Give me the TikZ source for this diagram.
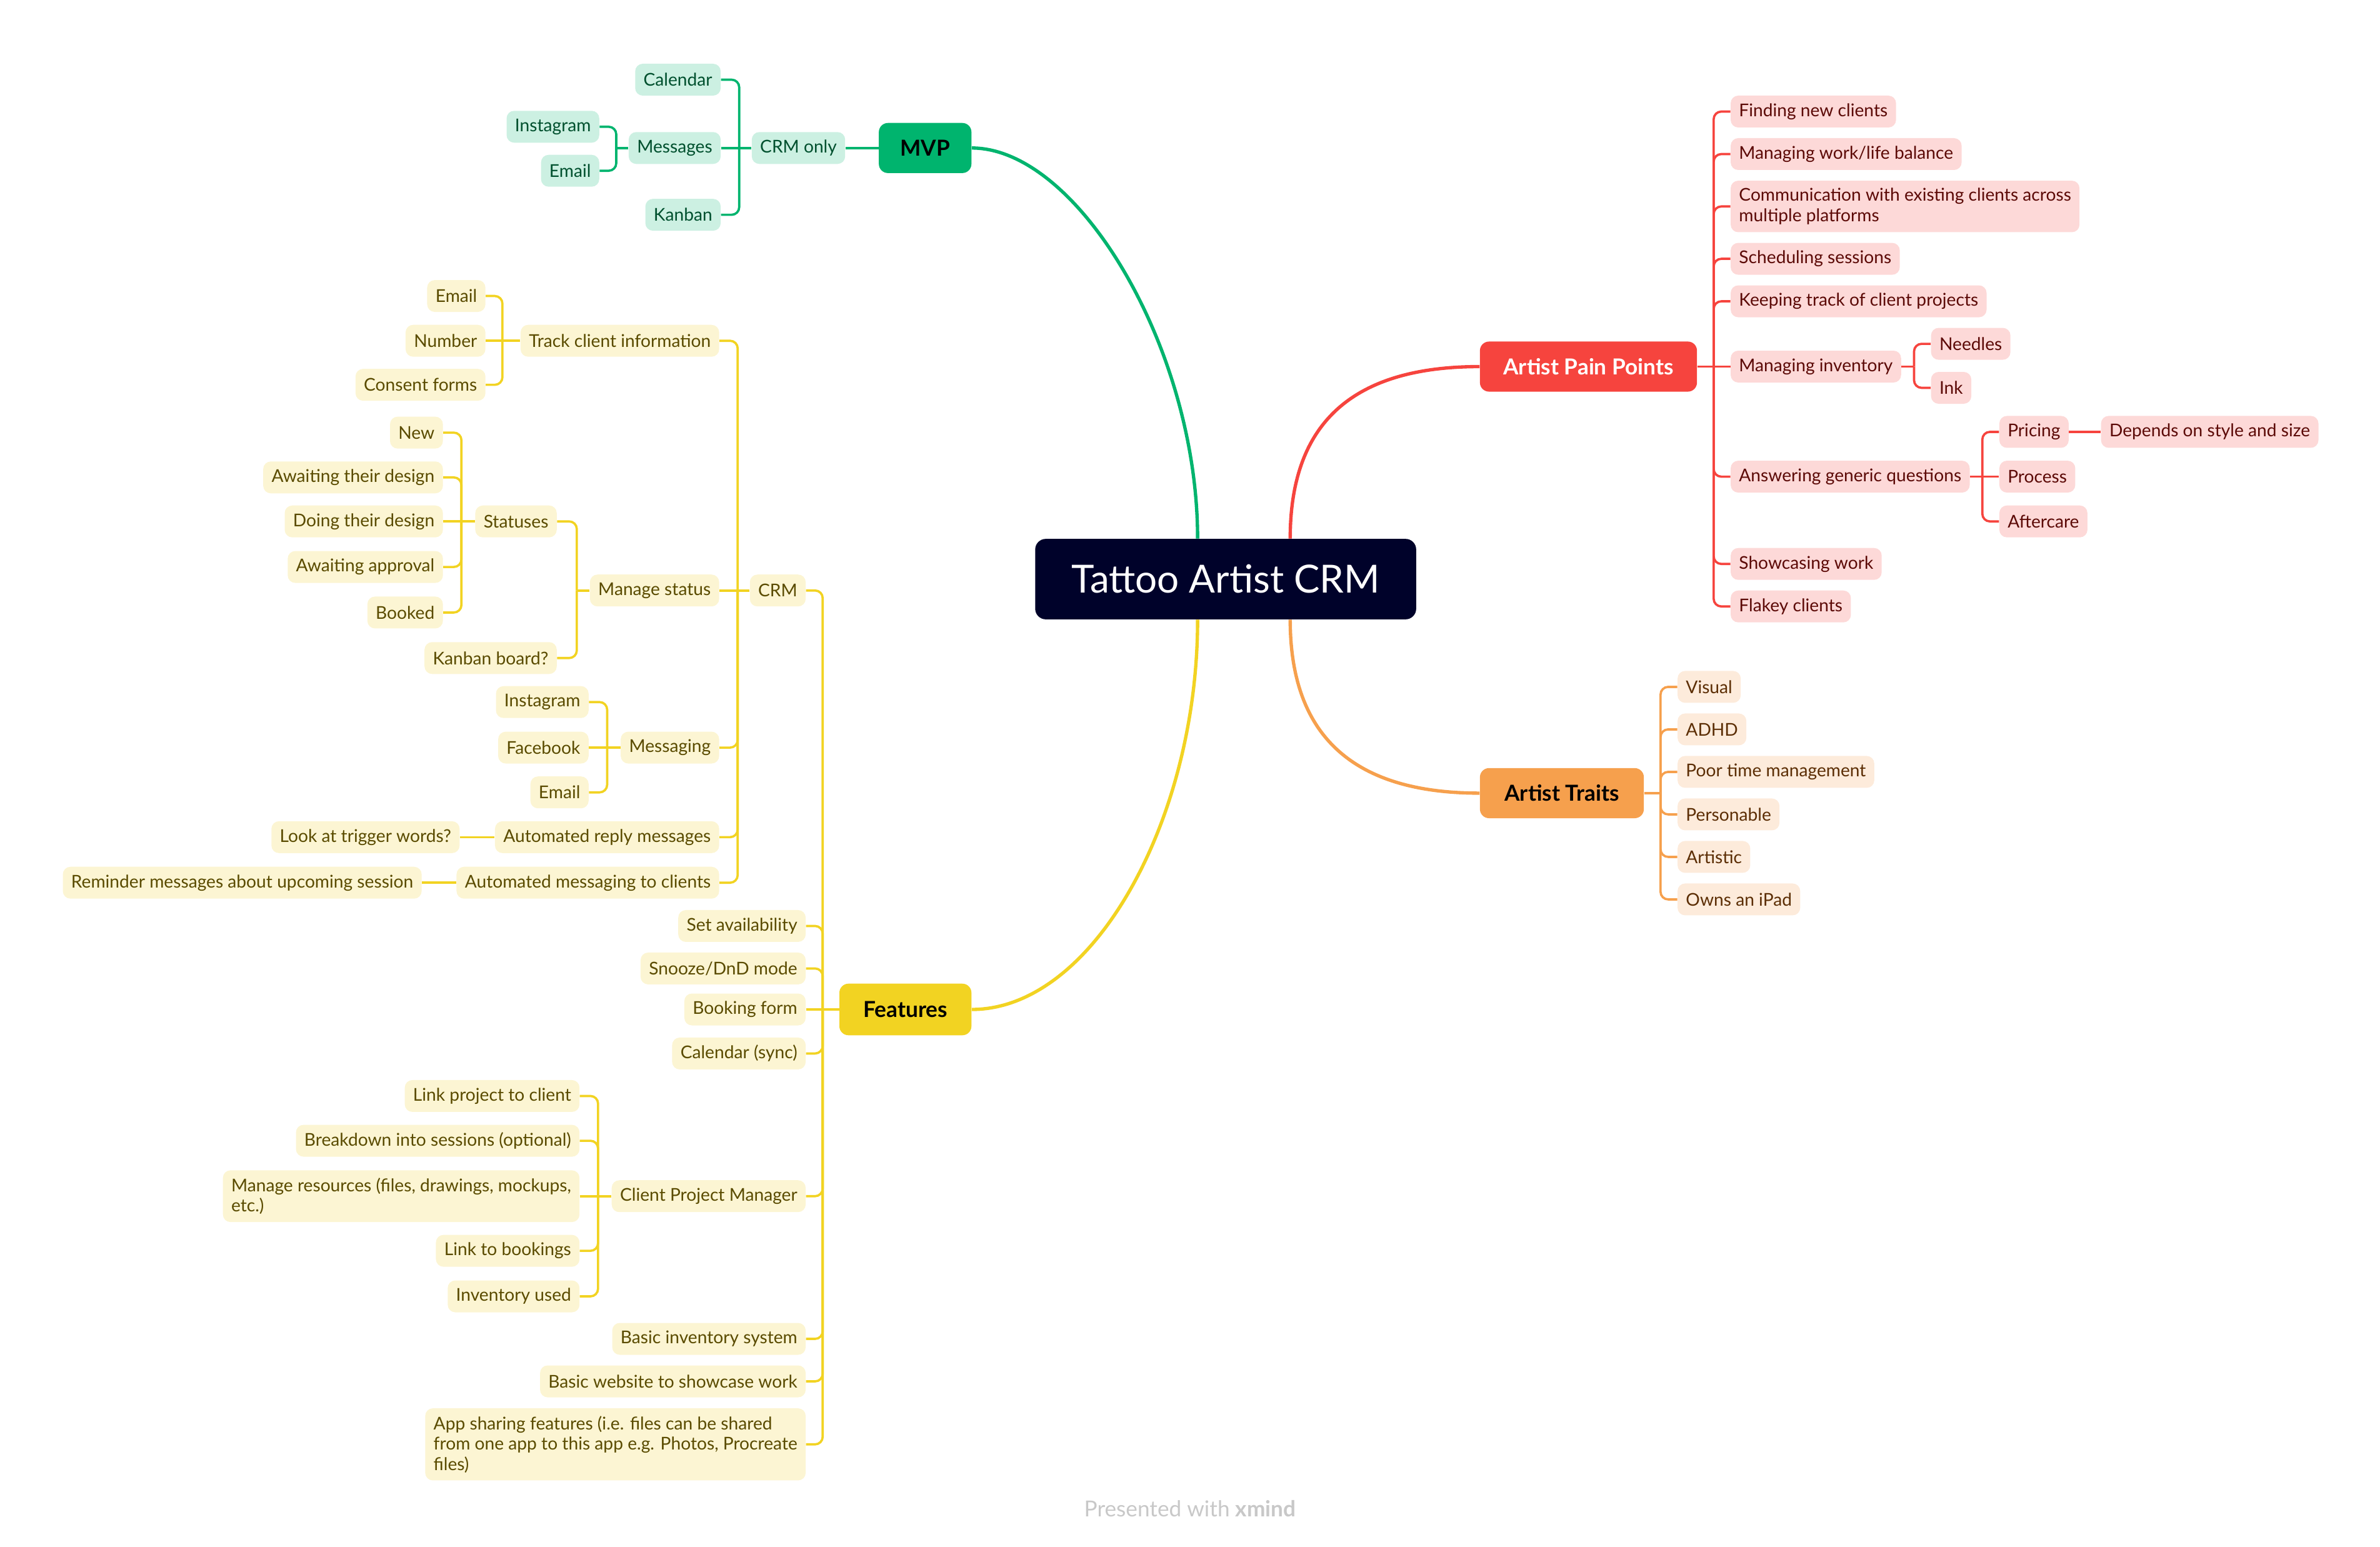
\documentclass[tikz,border=0pt]{standalone}
\usepackage{fontspec}
\setmainfont{Lato}
\usetikzlibrary{calc}
\definecolor{navy}{HTML}{00022A}
\definecolor{gM}{HTML}{00B46E}
\definecolor{gF}{HTML}{CCF0E2}
\definecolor{gT}{HTML}{00502E}
\definecolor{rM}{HTML}{F6443E}
\definecolor{rF}{HTML}{FDD9D8}
\definecolor{rT}{HTML}{5C0A07}
\definecolor{oM}{HTML}{F6A04D}
\definecolor{oF}{HTML}{FDEBDB}
\definecolor{oT}{HTML}{5C2E05}
\definecolor{yM}{HTML}{F2D322}
\definecolor{yF}{HTML}{FCF5D3}
\definecolor{yT}{HTML}{5A4B00}
\definecolor{footgray}{HTML}{C8C8C8}
\tikzset{
  leafbase/.style={rounded corners=5pt, inner xsep=5.5pt, inner ysep=2pt, minimum height=21pt, font=\fontsize{11.6}{13.4}\selectfont},
  gleaf/.style={leafbase, fill=gF, text=gT},
  rleaf/.style={leafbase, fill=rF, text=rT},
  oleaf/.style={leafbase, fill=oF, text=oT},
  yleaf/.style={leafbase, fill=yF, text=yT},
  multi/.style={align=left, inner ysep=5pt},
  topic/.style={rounded corners=6pt, minimum height=33pt, font=\fontsize{14.5}{16}\selectfont\bfseries},
  rootnode/.style={rounded corners=7pt, fill=navy, text=white, minimum width=251pt, minimum height=53pt, font=\fontsize{25.5}{28}\selectfont},
  gbr/.style={draw=gM, line width=1.5pt, rounded corners=5pt},
  rbr/.style={draw=rM, line width=1.5pt, rounded corners=5pt},
  obr/.style={draw=oM, line width=1.5pt, rounded corners=5pt},
  ybr/.style={draw=yM, line width=1.5pt, rounded corners=5pt},
  curve/.style={line width=2.2pt},
}
\begin{document}
\begin{tikzpicture}[x=1pt,y=-1pt]
\useasboundingbox (0,0) rectangle (1568,1019);

% ---------- root and main topics
\node[rootnode] (root) at (807.5,381.5) {Tattoo Artist CRM};
\node[topic, fill=gM, text=black, minimum width=61pt] (mvp) at (609.5,97.5) {MVP};
\node[topic, fill=rM, text=white, minimum width=143pt] (pain) at (1046.5,241.5) {Artist Pain Points};
\node[topic, fill=oM, text=black, minimum width=108pt] (traits) at (1029,522.5) {Artist Traits};
\node[topic, fill=yM, text=black, minimum width=87pt, minimum height=34pt] (feat) at (596.5,665) {Features};

\draw[curve, draw=gM] ([xshift=-18.5pt]root.north) .. controls +(0,-125) and +(70,0) .. (mvp.east);
\draw[curve, draw=rM] ([xshift=42.5pt]root.north) .. controls +(0,-75) and +(-85,0) .. (pain.west);
\draw[curve, draw=oM] ([xshift=42.5pt]root.south) .. controls +(0,75) and +(-85,0) .. (traits.west);
\draw[curve, draw=yM] ([xshift=-18.5pt]root.south) .. controls +(0,132) and +(80,0) .. (feat.east);

% ---------- MVP
\node[gleaf, anchor=east] (crmonly) at (557,97.5) {CRM only};
\node[gleaf, anchor=east] (mcal) at (475,52.5) {Calendar};
\node[gleaf, anchor=east] (mmsg) at (475,97.5) {Messages};
\node[gleaf, anchor=east] (mkan) at (475,141.5) {Kanban};
\node[gleaf, anchor=east] (mig) at (395,83.5) {Instagram};
\node[gleaf, anchor=east] (mem) at (395,112.5) {Email};
\coordinate (bCRMonly) at (487,97.5);
\coordinate (bMsgs) at (406,97.5);
\draw[gbr] (mvp.west) -- (crmonly.east);
\draw[gbr] (crmonly.west) -- (bCRMonly);
\draw[gbr] (mcal.east) -| (bCRMonly);
\draw[gbr] (mkan.east) -| (bCRMonly);
\draw[gbr] (mmsg.east) -- (bCRMonly);
\draw[gbr] (mmsg.west) -- (bMsgs);
\draw[gbr] (mig.east) -| (bMsgs);
\draw[gbr] (mem.east) -| (bMsgs);

% ---------- Artist Pain Points
\coordinate (bPain) at (1129,241.5);
\node[rleaf, anchor=west] (p1) at (1140,73.5) {Finding new clients};
\node[rleaf, anchor=west] (p2) at (1140,101.5) {Managing work/life balance};
\node[rleaf, multi, anchor=west] (p3) at (1140,136) {Communication with existing clients across\\multiple platforms};
\node[rleaf, anchor=west] (p4) at (1140,170.5) {Scheduling sessions};
\node[rleaf, anchor=west] (p5) at (1140,198.5) {Keeping track of client projects};
\node[rleaf, anchor=west] (p6) at (1140,241.5) {Managing inventory};
\node[rleaf, anchor=west] (p7) at (1140,314) {Answering generic questions};
\node[rleaf, anchor=west] (p8) at (1140,371.5) {Showcasing work};
\node[rleaf, anchor=west] (p9) at (1140,399.5) {Flakey clients};
\draw[rbr] (pain.east) -- (bPain);
\foreach \n in {p1,p2,p3,p4,p5,p7,p8,p9} {\draw[rbr] (\n.west) -| (bPain);}
\draw[rbr] (p6.west) -- (bPain);

\coordinate (bInv) at (1261,241.5);
\node[rleaf, anchor=west] (needles) at (1272,226.5) {Needles};
\node[rleaf, anchor=west] (ink) at (1272,255.5) {Ink};
\draw[rbr] (p6.east) -- (bInv);
\draw[rbr] (needles.west) -| (bInv);
\draw[rbr] (ink.west) -| (bInv);

\coordinate (bAns) at (1306,314);
\node[rleaf, anchor=west] (pricing) at (1317,284.5) {Pricing};
\node[rleaf, anchor=west] (process) at (1317,314) {Process};
\node[rleaf, anchor=west] (aftercare) at (1317,343.5) {Aftercare};
\node[rleaf, anchor=west] (depends) at (1384,284.5) {Depends on style and size};
\draw[rbr] (p7.east) -- (bAns);
\draw[rbr] (pricing.west) -| (bAns);
\draw[rbr] (process.west) -- (bAns);
\draw[rbr] (aftercare.west) -| (bAns);
\draw[rbr] (pricing.east) -- (depends.west);

% ---------- Artist Traits
\coordinate (bTraits) at (1094,522.5);
\node[oleaf, anchor=west] (t1) at (1105,452.5) {Visual};
\node[oleaf, anchor=west] (t2) at (1105,480.5) {ADHD};
\node[oleaf, anchor=west] (t3) at (1105,508.5) {Poor time management};
\node[oleaf, anchor=west] (t4) at (1105,536.5) {Personable};
\node[oleaf, anchor=west] (t5) at (1105,564.5) {Artistic};
\node[oleaf, anchor=west] (t6) at (1105,592.5) {Owns an iPad};
\draw[obr] (traits.east) -- (bTraits);
\foreach \n in {t1,t2,t3,t4,t5,t6} {\draw[obr] (\n.west) -| (bTraits);}

% ---------- Features
\coordinate (bFeat) at (542,665);
\node[yleaf, anchor=east] (crm) at (531,389) {CRM};
\node[yleaf, anchor=east] (f1) at (531,610) {Set availability};
\node[yleaf, anchor=east] (f2) at (531,638) {Snooze/DnD mode};
\node[yleaf, anchor=east] (f3) at (531,665) {Booking form};
\node[yleaf, anchor=east] (f4) at (531,694) {Calendar (sync)};
\node[yleaf, anchor=east] (f5) at (531,788) {Client Project Manager};
\node[yleaf, anchor=east] (f6) at (531,882) {Basic inventory system};
\node[yleaf, anchor=east] (f7) at (531,910) {Basic website to showcase work};
\node[yleaf, multi, anchor=east] (f8) at (531,951.5) {App sharing features (i.e. files can be shared\\from one app to this app e.g. Photos, Procreate\\files)};
\draw[ybr] (feat.west) -- (bFeat);
\foreach \n in {crm,f1,f2,f4,f5,f6,f7,f8} {\draw[ybr] (\n.east) -| (bFeat);}
\draw[ybr] (f3.east) -- (bFeat);

% CRM
\coordinate (bCRM) at (486,389);
\node[yleaf, anchor=east] (c1) at (474,224.5) {Track client information};
\node[yleaf, anchor=east] (c2) at (474,389) {Manage status};
\node[yleaf, anchor=east] (c3) at (474,492.5) {Messaging};
\node[yleaf, anchor=east] (c4) at (474,551.5) {Automated reply messages};
\node[yleaf, anchor=east] (c5) at (474,581.5) {Automated messaging to clients};
\draw[ybr] (crm.west) -- (bCRM);
\foreach \n in {c1,c3,c4,c5} {\draw[ybr] (\n.east) -| (bCRM);}
\draw[ybr] (c2.east) -- (bCRM);

% Track client information
\coordinate (bTrack) at (331,224.5);
\node[yleaf, anchor=east] (tr1) at (320,195) {Email};
\node[yleaf, anchor=east] (tr2) at (320,224.5) {Number};
\node[yleaf, anchor=east] (tr3) at (320,253.5) {Consent forms};
\draw[ybr] (c1.west) -- (bTrack);
\draw[ybr] (tr1.east) -| (bTrack);
\draw[ybr] (tr2.east) -- (bTrack);
\draw[ybr] (tr3.east) -| (bTrack);

% Manage status
\coordinate (bMan) at (380,389);
\node[yleaf, anchor=east] (ms1) at (367,343.5) {Statuses};
\node[yleaf, anchor=east] (ms2) at (367,433.5) {Kanban board?};
\draw[ybr] (c2.west) -- (bMan);
\draw[ybr] (ms1.east) -| (bMan);
\draw[ybr] (ms2.east) -| (bMan);

% Statuses
\coordinate (bStat) at (304,343.5);
\node[yleaf, anchor=east] (s1) at (292,285) {New};
\node[yleaf, anchor=east] (s2) at (292,314.5) {Awaiting their design};
\node[yleaf, anchor=east] (s3) at (292,343.5) {Doing their design};
\node[yleaf, anchor=east] (s4) at (292,373.5) {Awaiting approval};
\node[yleaf, anchor=east] (s5) at (292,403.5) {Booked};
\draw[ybr] (ms1.west) -- (bStat);
\foreach \n in {s1,s2,s4,s5} {\draw[ybr] (\n.east) -| (bStat);}
\draw[ybr] (s3.east) -- (bStat);

% Messaging
\coordinate (bMsg2) at (400,492.5);
\node[yleaf, anchor=east] (mg1) at (388,462.5) {Instagram};
\node[yleaf, anchor=east] (mg2) at (388,492.5) {Facebook};
\node[yleaf, anchor=east] (mg3) at (388,522) {Email};
\draw[ybr] (c3.west) -- (bMsg2);
\draw[ybr] (mg1.east) -| (bMsg2);
\draw[ybr] (mg2.east) -- (bMsg2);
\draw[ybr] (mg3.east) -| (bMsg2);

% Automated
\node[yleaf, anchor=east] (look) at (303,551.5) {Look at trigger words?};
\node[yleaf, anchor=east] (remind) at (278,581.5) {Reminder messages about upcoming session};
\draw[ybr] (c4.west) -- (look.east);
\draw[ybr] (c5.west) -- (remind.east);

% Client Project Manager
\coordinate (bCPM) at (394,788);
\node[yleaf, anchor=east] (cp1) at (382,722) {Link project to client};
\node[yleaf, anchor=east] (cp2) at (382,751.5) {Breakdown into sessions (optional)};
\node[yleaf, multi, anchor=east] (cp3) at (382,788) {Manage resources (files, drawings, mockups,\\etc.)};
\node[yleaf, anchor=east] (cp4) at (382,824) {Link to bookings};
\node[yleaf, anchor=east] (cp5) at (382,854) {Inventory used};
\draw[ybr] (f5.west) -- (bCPM);
\foreach \n in {cp1,cp2,cp4,cp5} {\draw[ybr] (\n.east) -| (bCPM);}
\draw[ybr] (cp3.east) -- (bCPM);

% ---------- footer
\node[text=footgray, font=\fontsize{14.5}{16}\selectfont] (foot) at (784,994) {Presented with \textbf{xmind}};
\end{tikzpicture}
\end{document}
